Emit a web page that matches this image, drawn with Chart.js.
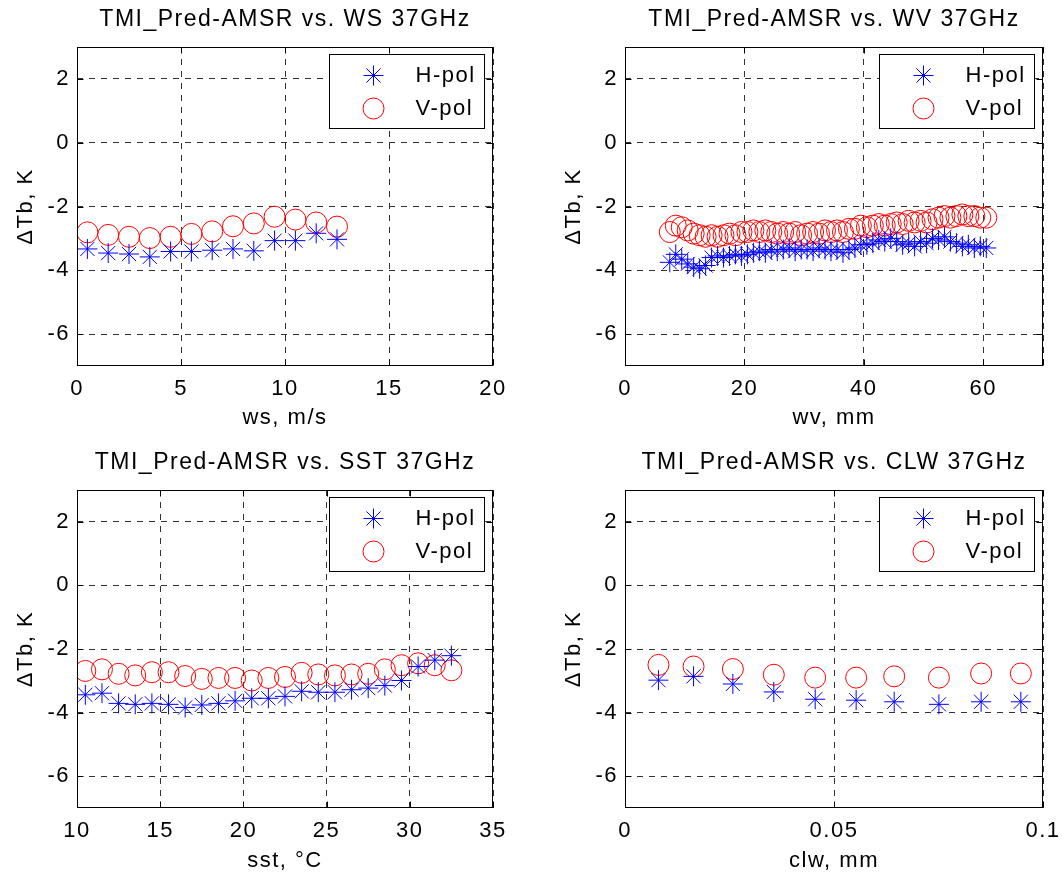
<!DOCTYPE html>
<html>
<head>
<meta charset="utf-8">
<title>TMI_Pred-AMSR 37GHz</title>
<script src="https://cdn.jsdelivr.net/npm/chart.js@4/dist/chart.umd.min.js"></script>
<style>
  html, body { margin: 0; padding: 0; background: #fff; }
  body { width: 1062px; height: 875px; position: relative; overflow: hidden; }
  canvas { position: absolute; display: block; }
</style>
</head>
<body>
<canvas id="c1" width="531" height="437" style="left:0;top:0;width:531px;height:437px"></canvas>
<canvas id="c2" width="514" height="437" style="left:548px;top:0;width:514px;height:437px"></canvas>
<canvas id="c3" width="531" height="438" style="left:0;top:437px;width:531px;height:438px"></canvas>
<canvas id="c4" width="514" height="438" style="left:548px;top:437px;width:514px;height:438px"></canvas>
<script>
// y軸（共通）
const yTicks = [-6, -4, -2, 0, 2];
const yTickLabels = ["-6", "-4", "-2", "0", "2"];

// 風速 ws
const wsX = [0.5, 1.5, 2.5, 3.5, 4.5, 5.5, 6.5, 7.5, 8.5, 9.5, 10.5, 11.5, 12.5];
const wsH = [-3.33, -3.46, -3.49, -3.58, -3.41, -3.41, -3.37, -3.33, -3.39, -3.07, -3.07, -2.84, -3.03];
const wsV = [-2.81, -2.89, -2.95, -2.99, -2.95, -2.86, -2.78, -2.62, -2.53, -2.32, -2.41, -2.5, -2.63];
const wsTicks = [0, 5, 10, 15, 20];
const wsTickLabels = ["0", "5", "10", "15", "20"];

// 水蒸気 wv
const wvX = [7.5, 8.5, 9.5, 10.5, 11.5, 12.5, 13.5, 14.5, 15.5, 16.5, 17.5, 18.5, 19.5, 20.5,
  21.5, 22.5, 23.5, 24.5, 25.5, 26.5, 27.5, 28.5, 29.5, 30.5, 31.5, 32.5, 33.5, 34.5,
  35.5, 36.5, 37.5, 38.5, 39.5, 40.5, 41.5, 42.5, 43.5, 44.5, 45.5, 46.5, 47.5, 48.5,
  49.5, 50.5, 51.5, 52.5, 53.5, 54.5, 55.5, 56.5, 57.5, 58.5, 59.5, 60.5];
const wvH = [-3.75, -3.5, -3.65, -3.8, -3.9, -3.95, -3.85, -3.6, -3.55, -3.6, -3.55, -3.5, -3.55, -3.5,
  -3.45, -3.4, -3.45, -3.35, -3.4, -3.35, -3.3, -3.4, -3.35, -3.35, -3.4, -3.3, -3.35, -3.4,
  -3.35, -3.45, -3.35, -3.3, -3.2, -3.2, -3.15, -3.05, -3.1, -3.0, -3.1, -3.2, -3.15, -3.25,
  -3.1, -3.15, -3.0, -3.05, -2.95, -3.1, -3.15, -3.25, -3.2, -3.3, -3.25, -3.3];
const wvV = [-2.8, -2.6, -2.65, -2.75, -2.85, -2.9, -2.95, -2.9, -2.95, -2.9, -2.85, -2.9, -2.8, -2.8,
  -2.75, -2.8, -2.75, -2.8, -2.85, -2.8, -2.85, -2.8, -2.9, -2.85, -2.8, -2.85, -2.75, -2.8,
  -2.75, -2.8, -2.7, -2.7, -2.6, -2.65, -2.6, -2.55, -2.6, -2.55, -2.5, -2.55, -2.45, -2.5,
  -2.45, -2.5, -2.4, -2.35, -2.3, -2.35, -2.3, -2.25, -2.3, -2.3, -2.35, -2.35];
const wvTicks = [0, 20, 40, 60, 70];
const wvTickLabels = ["0", "20", "40", "60", ""];

// 海面水温 sst
const sstX = [10.5, 11.5, 12.5, 13.5, 14.5, 15.5, 16.5, 17.5, 18.5, 19.5, 20.5, 21.5,
  22.5, 23.5, 24.5, 25.5, 26.5, 27.5, 28.5, 29.5, 30.5, 31.5, 32.5];
const sstH = [-3.44, -3.39, -3.71, -3.74, -3.71, -3.74, -3.84, -3.76, -3.71, -3.63, -3.55, -3.55,
  -3.49, -3.33, -3.36, -3.36, -3.28, -3.23, -3.15, -2.99, -2.55, -2.35, -2.21];
const sstV = [-2.69, -2.64, -2.78, -2.83, -2.73, -2.73, -2.85, -2.94, -2.91, -2.91, -2.99, -2.91,
  -2.88, -2.75, -2.8, -2.83, -2.8, -2.78, -2.64, -2.51, -2.45, -2.51, -2.67];
const sstTicks = [10, 15, 20, 25, 30, 35];
const sstTickLabels = ["10", "15", "20", "25", "30", "35"];

// 雲水量 clw
const clwX = [0.008, 0.0164, 0.0258, 0.0356, 0.0455, 0.0553, 0.0644, 0.0751, 0.0852, 0.0947];
const clwH = [-2.98, -2.86, -3.1, -3.35, -3.58, -3.61, -3.66, -3.74, -3.66, -3.66];
const clwV = [-2.5, -2.55, -2.63, -2.81, -2.9, -2.9, -2.86, -2.9, -2.77, -2.77];
const clwTicks = [0, 0.05, 0.1];
const clwTickLabels = ["0", "0.05", "0.1"];

const FONT = '"Liberation Sans", Arial, sans-serif';
const BLUE = "rgb(0,0,255)";
const RED = "rgb(255,0,0)";

// 凡例マーカー（アスタリスク / 丸）
function drawMarker(ctx, style, color, r, x, y) {
  ctx.save();
  ctx.setLineDash([]);
  ctx.strokeStyle = color;
  ctx.lineWidth = 1;
  ctx.beginPath();
  if (style === "star") {
    const d = r * Math.SQRT1_2;
    ctx.moveTo(x - r, y); ctx.lineTo(x + r, y);
    ctx.moveTo(x, y - r); ctx.lineTo(x, y + r);
    ctx.moveTo(x - d, y - d); ctx.lineTo(x + d, y + d);
    ctx.moveTo(x - d, y + d); ctx.lineTo(x + d, y - d);
  } else {
    ctx.arc(x, y, r, 0, Math.PI * 2);
  }
  ctx.stroke();
  ctx.restore();
}

// タイトル・枠・内側目盛り・凡例を描く
const framePlugin = {
  id: "frame",
  beforeDraw(chart) {
    chart.ctx.letterSpacing = "1.5px";
  },
  afterDraw(chart, args, opts) {
    const ctx = chart.ctx;
    const a = chart.chartArea;
    const xs = chart.scales.x;
    const ys = chart.scales.y;
    ctx.save();
    ctx.letterSpacing = "1.5px";

    // タイトル
    ctx.fillStyle = "#000";
    ctx.font = "23px " + FONT;
    ctx.textAlign = "center";
    ctx.textBaseline = "middle";
    ctx.fillText(opts.title, (a.left + a.right) / 2, a.top - 27);

    // 枠
    const L = Math.round(a.left) + 0.5;
    const R = Math.round(a.right) - 0.5;
    const T = Math.round(a.top) + 0.5;
    const B = Math.round(a.bottom) - 0.5;
    ctx.setLineDash([]);
    ctx.strokeStyle = "#000";
    ctx.lineWidth = 1;
    ctx.strokeRect(L, T, R - L, B - T);

    // 内側の目盛り
    const tl = 6;
    ctx.beginPath();
    xs.ticks.forEach(function (t) {
      const px = Math.round(xs.getPixelForValue(t.value)) + 0.5;
      ctx.moveTo(px, B); ctx.lineTo(px, B - tl);
      ctx.moveTo(px, T); ctx.lineTo(px, T + tl);
    });
    ys.ticks.forEach(function (t) {
      const py = Math.round(ys.getPixelForValue(t.value)) + 0.5;
      ctx.moveTo(L, py); ctx.lineTo(L + tl, py);
      ctx.moveTo(R, py); ctx.lineTo(R - tl, py);
    });
    ctx.stroke();

    // 凡例
    const bw = 155, bh = 74;
    const bx = Math.round(a.right - 9 - bw) + 0.5;
    const by = Math.round(a.top + 7) + 0.5;
    ctx.fillStyle = "#fff";
    ctx.fillRect(bx, by, bw, bh);
    ctx.strokeRect(bx, by, bw, bh);
    chart.data.datasets.forEach(function (ds, i) {
      const my = by + 21 + i * 33;
      drawMarker(ctx, ds.pointStyle, ds.borderColor, ds.pointRadius, bx + 44, my);
      ctx.fillStyle = "#000";
      ctx.font = "22px " + FONT;
      ctx.textAlign = "left";
      ctx.textBaseline = "middle";
      ctx.fillText(ds.label, bx + 86, my);
    });
    ctx.restore();
  },
};

function makePoints(xs, ys) {
  return xs.map(function (x, i) {
    return { x: x, y: ys[i] };
  });
}

function createChart(canvasId, cfg) {
  const ctx = document.getElementById(canvasId).getContext("2d");
  const font = { family: FONT, size: 22 };
  return new Chart(ctx, {
    type: "scatter",
    data: {
      datasets: [
        {
          label: "H-pol",
          data: makePoints(cfg.x, cfg.h),
          pointStyle: "star",
          pointRadius: 10,
          pointHoverRadius: 10,
          borderColor: BLUE,
          backgroundColor: "rgba(0,0,0,0)",
          borderWidth: 1,
        },
        {
          label: "V-pol",
          data: makePoints(cfg.x, cfg.v),
          pointStyle: "circle",
          pointRadius: 10.5,
          pointHoverRadius: 10.5,
          borderColor: RED,
          backgroundColor: "rgba(0,0,0,0)",
          borderWidth: 1,
        },
      ],
    },
    options: {
      responsive: false,
      animation: false,
      events: [],
      layout: {
        padding: { top: cfg.top, right: cfg.right, bottom: 0, left: 0 },
      },
      plugins: {
        legend: { display: false },
        tooltip: { enabled: false },
        frame: { title: cfg.title },
      },
      scales: {
        x: {
          type: "linear",
          min: cfg.ticks[0],
          max: cfg.ticks[cfg.ticks.length - 1],
          afterBuildTicks: function (s) {
            s.ticks = cfg.ticks.map(function (v) { return { value: v }; });
          },
          afterFit: function (s) {
            s.height = cfg.xh;
            s.paddingLeft = 0;
            s.paddingRight = 0;
          },
          ticks: {
            font: font,
            color: "#000",
            padding: 10,
            maxRotation: 0,
            autoSkip: false,
            callback: function (v, i) { return cfg.labels[i]; },
          },
          grid: { color: "#333", lineWidth: 1, drawTicks: false },
          border: { display: false, dash: [6, 6] },
          title: {
            display: true,
            text: cfg.xtitle,
            font: font,
            color: "#000",
            padding: { top: 0, bottom: cfg.xtPad },
          },
        },
        y: {
          type: "linear",
          min: -7,
          max: 3,
          afterBuildTicks: function (s) {
            s.ticks = yTicks.map(function (v) { return { value: v }; });
          },
          afterFit: function (s) {
            s.width = 77;
            s.paddingTop = 0;
            s.paddingBottom = 0;
          },
          ticks: {
            font: font,
            color: "#000",
            padding: 7,
            callback: function (v, i) { return yTickLabels[i]; },
          },
          grid: { color: "#333", lineWidth: 1, drawTicks: false },
          border: { display: false, dash: [6, 6] },
          title: {
            display: true,
            text: "\u0394Tb, K",
            font: font,
            color: "#000",
            padding: { top: 13, bottom: 0 },
          },
        },
      },
    },
    plugins: [framePlugin],
  });
}

createChart("c1", {
  title: "TMI_Pred-AMSR vs. WS 37GHz", xtitle: "ws, m/s",
  x: wsX, h: wsH, v: wsV, ticks: wsTicks, labels: wsTickLabels,
  top: 47, right: 38, xh: 71, xtPad: 6,
});
createChart("c2", {
  title: "TMI_Pred-AMSR vs. WV 37GHz", xtitle: "wv, mm",
  x: wvX, h: wvH, v: wvV, ticks: wvTicks, labels: wvTickLabels,
  top: 47, right: 19, xh: 71, xtPad: 6,
});
createChart("c3", {
  title: "TMI_Pred-AMSR vs. SST 37GHz", xtitle: "sst, \u00B0C",
  x: sstX, h: sstH, v: sstV, ticks: sstTicks, labels: sstTickLabels,
  top: 53, right: 38, xh: 67, xtPad: 1,
});
createChart("c4", {
  title: "TMI_Pred-AMSR vs. CLW 37GHz", xtitle: "clw, mm",
  x: clwX, h: clwH, v: clwV, ticks: clwTicks, labels: clwTickLabels,
  top: 53, right: 19, xh: 67, xtPad: 1,
});
</script>
</body>
</html>
